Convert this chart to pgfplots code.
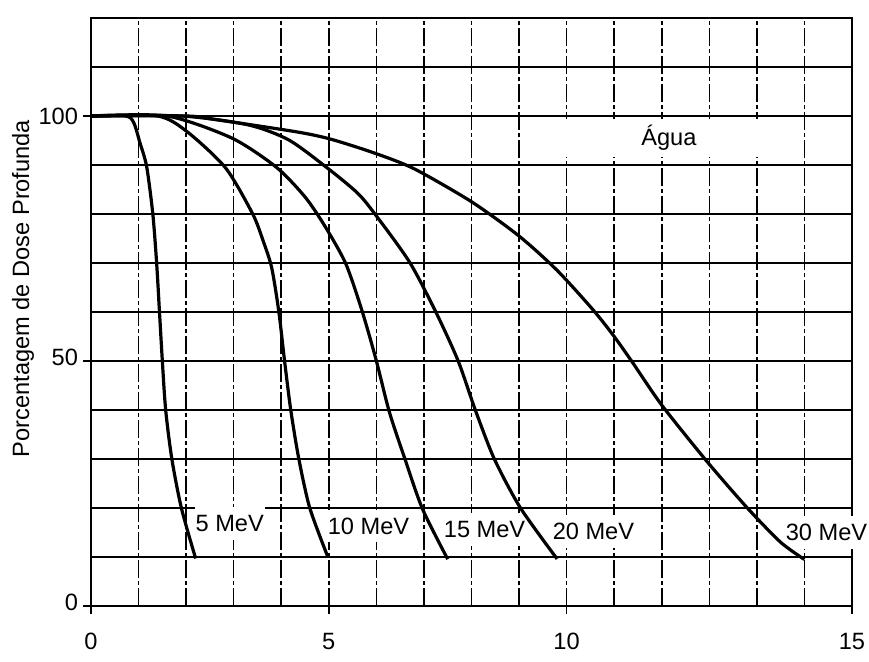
\documentclass[border=0pt]{standalone}
\usepackage{fontspec}
\setmainfont{Liberation Sans}
\usepackage{pgfplots}
\pgfplotsset{compat=1.18}
\tikzset{xg/.style={black, line width=0.8pt, dash pattern=on 9pt off 1.5pt on 2pt off 1.5pt},
  yg/.style={black, line width=0.9pt},
  lbl/.style={fill=white, inner xsep=0.5pt, inner ysep=4pt, anchor=west}}
\begin{document}
\begin{tikzpicture}[font=\fontsize{11.8}{14}\selectfont]
\path[use as bounding box] (-45.5pt,-28pt) rectangle (389pt,303pt);
\begin{axis}[
  at={(0,0)}, anchor=south west,
  scale only axis, width=380.5pt, height=294pt,
  xmin=0, xmax=16, ymin=0, ymax=120,
  clip=false,
  xtick={0,5,10,16}, xticklabels={0,5,10,15},
  minor xtick={1,2,3,4,6,7,8,9,11,12,13,14,15},
  ytick={0,50,100}, yticklabels={\raisebox{4pt}{0},\raisebox{4pt}{50},100},
  minor ytick={10,20,30,40,60,70,80,90,110},
  grid=both,
  major x grid style={xg}, minor x grid style={xg},
  major y grid style={yg}, minor y grid style={yg},
  axis line style={black, line width=0.9pt},
  tick style={black, line width=0.8pt},
  tick align=outside, tick pos=left,
  major tick length=4pt, minor tick length=0pt,
  xticklabel style={yshift=-6pt},
  yticklabel style={xshift=1pt},
  /pgf/number format/assume math mode=true,
  ylabel={Porcentagem de Dose Profunda},
  ylabel style={at={(axis description cs:-0.0894,0.54)}, anchor=center},
]
\node[fill=white, minimum width=105pt, minimum height=17pt] at (axis cs:12.15,95.5) {Água};
\node[lbl] at (axis cs:2.17,16.8) {5 MeV};
\node[lbl] at (axis cs:4.95,16.3) {10 MeV};
\node[lbl] at (axis cs:7.39,15.6) {15 MeV};
\node[lbl] at (axis cs:9.68,15.25) {20 MeV};
\node[lbl] at (axis cs:14.58,14.95) {30 MeV};

% 5 MeV
\addplot[black, line width=1.6pt, smooth, tension=0.45] coordinates {
 (0,100) (0.73,100) (0.9,98.6) (1.03,94.5) (1.17,89.7) (1.3,80) (1.38,70)
 (1.44,60) (1.5,50) (1.57,40) (1.7,30) (1.9,20) (2.2,9.7)};
% 10 MeV
\addplot[black, line width=1.6pt, smooth, tension=0.45] coordinates {
 (0,100) (1.4,100) (2.02,96.8) (2.83,89.4) (3.4,80) (3.62,74.5) (3.8,69)
 (3.95,60) (4.07,50) (4.2,40) (4.37,30) (4.6,20) (4.98,10)};
% 15 MeV
\addplot[black, line width=1.6pt, smooth, tension=0.45] coordinates {
 (0,100) (1.6,100) (2.96,95.5) (3.89,89.6) (4.49,83.6) (4.9,77.8) (5.35,70)
 (5.69,60.5) (5.99,50.4) (6.27,39.7) (6.59,30.3) (6.97,19.8) (7.5,9.55)};
% 20 MeV
\addplot[black, line width=1.6pt, smooth, tension=0.45] coordinates {
 (0,100) (1.9,100) (3.3,98.2) (4.16,95.1) (4.98,89.3) (5.59,84.4) (5.93,80.5)
 (6.69,70.3) (7.25,60) (7.72,50) (8.08,40) (8.48,30)
 (9.03,20) (9.8,9.6)};
% 30 MeV
\addplot[black, line width=1.6pt, smooth, tension=0.45] coordinates {
 (0,100) (2.0,100) (2.6,99.3) (4.3,96.8) (5.03,95.3) (5.97,92.4) (6.8,89.2)
 (8.0,82.5) (9.0,75.5) (9.8,68.5) (10.55,60.5) (11.0,55) (11.4,49.5)
 (12.0,41) (12.95,29.5) (13.8,20) (14.5,13) (15.0,9.5)};
\end{axis}
\end{tikzpicture}
\end{document}
